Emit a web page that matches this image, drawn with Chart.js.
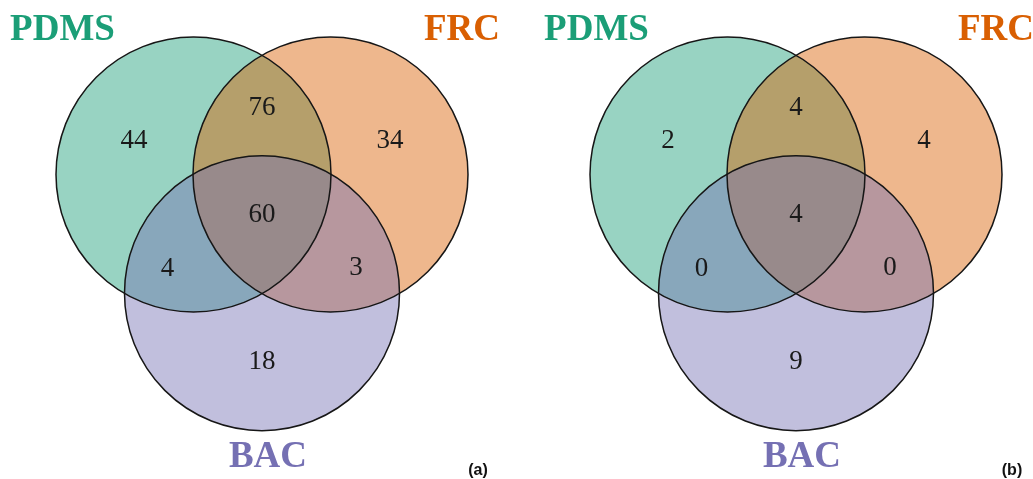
<!DOCTYPE html>
<html>
<head>
<meta charset="utf-8">
<script src="https://cdn.jsdelivr.net/npm/chart.js@4.4.1/dist/chart.umd.min.js"></script>
<style>
  html, body { margin: 0; padding: 0; background: #ffffff; }
  canvas { display: block; }
</style>
</head>
<body>
<canvas id="c" width="1033" height="479"></canvas>
<script>
// ---- data ----
const setNames = ['PDMS', 'FRC', 'BAC'];
const panelNames = ['(a)', '(b)'];
const regionKeys = ['PDMS', 'FRC', 'BAC', 'PDMS&FRC', 'PDMS&BAC', 'FRC&BAC', 'PDMS&FRC&BAC'];
const countsA = [44, 34, 18, 76, 4, 3, 60];
const countsB = [2, 4, 9, 4, 0, 0, 4];
const setColors = ['#1b9e77', '#d95f02', '#7570b3'];

// ---- layout (not data) ----
const W = 1033, H = 479;
const panelMid = [[262, 174.5], [796, 174.5]]; // midpoint between PDMS & FRC centres
const D = 137;      // distance between circle centres
const R = 137.5;    // circle radius
const fillAlpha = 0.45;
// region label offsets relative to panel mid, in units of D
const regionOffsets = [
  [-0.934, -0.245], [0.934, -0.245], [0, 1.365],
  [0, -0.489], [-0.69, 0.69], [0.686, 0.68], [0, 0.295]
];
const setLabelOffsets = [[-199.5, -144], [200, -144], [6, 283]];
const panelLabelOffset = [216, 296];

function hexA(hex, a) {
  const n = parseInt(hex.slice(1), 16);
  return `rgba(${(n >> 16) & 255},${(n >> 8) & 255},${n & 255},${a})`;
}
function centres(mid) {
  return [
    { x: mid[0] - D / 2, y: mid[1] },
    { x: mid[0] + D / 2, y: mid[1] },
    { x: mid[0], y: mid[1] + D * Math.sqrt(3) / 2 }
  ];
}
const radiusPx = (ctx) => {
  const s = ctx.chart.scales.x;
  return Math.abs(s.getPixelForValue(R) - s.getPixelForValue(0));
};

const datasets = [];
const panelsCounts = [countsA, countsB];
panelMid.forEach((mid, p) => {
  const cs = centres(mid);
  setNames.forEach((name, i) => {
    // translucent fill
    datasets.push({
      label: name + ' ' + panelNames[p],
      data: [cs[i]],
      order: 3 - i,
      backgroundColor: hexA(setColors[i], fillAlpha),
      borderWidth: 0,
      borderColor: 'rgba(0,0,0,0)',
      pointRadius: radiusPx,
      pointHoverRadius: radiusPx,
      pointStyle: 'circle'
    });
    // outline on top of all fills
    datasets.push({
      label: name + ' outline ' + panelNames[p],
      data: [cs[i]],
      order: 0,
      backgroundColor: 'rgba(0,0,0,0)',
      borderColor: '#161616',
      borderWidth: 1.5,
      pointRadius: radiusPx,
      pointHoverRadius: radiusPx,
      pointStyle: 'circle'
    });
  });
});

const textPlugin = {
  id: 'vennText',
  afterDatasetsDraw(chart) {
    const c = chart.ctx, xs = chart.scales.x, ys = chart.scales.y;
    c.save();
    c.textAlign = 'center';
    c.textBaseline = 'middle';
    panelMid.forEach((mid, p) => {
      const counts = panelsCounts[p];
      c.fillStyle = '#1a1a1a';
      c.font = '27px "Liberation Serif", "Times New Roman", serif';
      counts.forEach((v, k) => {
        const o = regionOffsets[k];
        c.fillText(String(v), xs.getPixelForValue(mid[0] + o[0] * D), ys.getPixelForValue(mid[1] + o[1] * D));
      });
      c.font = 'bold 37px "Liberation Serif", "Times New Roman", serif';
      setNames.forEach((name, i) => {
        const o = setLabelOffsets[i];
        c.fillStyle = setColors[i];
        c.fillText(name, xs.getPixelForValue(mid[0] + o[0]), ys.getPixelForValue(mid[1] + o[1]));
      });
      c.fillStyle = '#111111';
      c.font = 'bold 16px "Liberation Sans", Arial, sans-serif';
      c.fillText(panelNames[p], xs.getPixelForValue(mid[0] + panelLabelOffset[0]), ys.getPixelForValue(mid[1] + panelLabelOffset[1]));
    });
    c.restore();
  }
};

new Chart(document.getElementById('c'), {
  type: 'scatter',
  data: { datasets },
  options: {
    responsive: false,
    animation: false,
    events: [],
    layout: { padding: 0 },
    plugins: { legend: { display: false }, tooltip: { enabled: false } },
    scales: {
      x: { type: 'linear', min: 0, max: W, display: false },
      y: { type: 'linear', min: 0, max: H, reverse: true, display: false }
    }
  },
  plugins: [textPlugin]
});
</script>
</body>
</html>
